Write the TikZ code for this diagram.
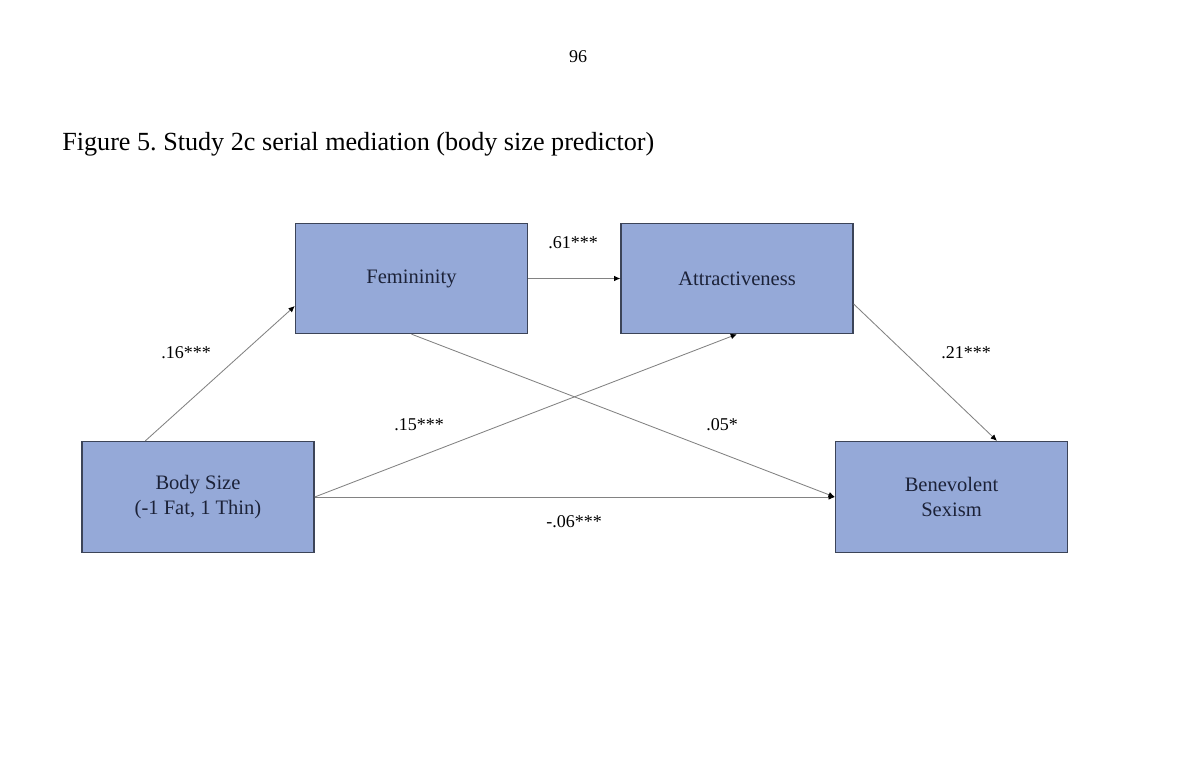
\documentclass[tikz,border=0pt]{standalone}
\usepackage{fontspec}
\setmainfont{Liberation Serif}
\usetikzlibrary{arrows.meta,calc}
\definecolor{boxfill}{RGB}{149,169,216}
\definecolor{boxline}{RGB}{60,68,88}
\definecolor{boxtext}{RGB}{28,34,56}
\definecolor{linegray}{RGB}{130,130,130}
\frenchspacing
\begin{document}
\begin{tikzpicture}[x=0.025cm,y=-0.025cm,
  varbox/.style={draw=boxline,line width=0.9pt,fill=boxfill,rectangle,
    minimum width=5.8cm,minimum height=2.75cm,inner sep=0pt,align=center,
    text=boxtext,font=\fontsize{14.6}{18.3}\selectfont},
  path/.style={draw=linegray,line width=0.6pt,-{Latex[length=4.5pt,width=4pt,color=black]}},
  coef/.style={font=\fontsize{12.8}{15}\selectfont,text=black,inner sep=0pt}]
\useasboundingbox[fill=white] (0,0) rectangle (1200,765);
\node[font=\fontsize{12.8}{15}\selectfont] (pagenum) at (578,57) {96};
\node[anchor=west,inner sep=0pt,font=\fontsize{18.6}{22}\selectfont] (title) at (62,144) {Figure 5. Study 2c serial mediation (body size predictor)};
\node[varbox] (fem) at (411.5,278.5) {Femininity};
\node[varbox] (attr) at (737,278.5) {Attractiveness};
\node[varbox,minimum height=2.775cm] (body) at (198,497) {Body Size\\(-1 Fat, 1 Thin)};
\node[varbox,minimum height=2.775cm] (benev) at (951.5,497) {Benevolent\\Sexism};
\draw[path] ($(body.north west)+(64,0)$) -- ($(fem.west)+(0,27.5)$);
\draw[path] (fem.east) -- (attr.west);
\draw[path] ($(attr.east)+(0,25.5)$) -- ($(benev.north)+(45.5,0)$);
\draw[path] (fem.south) -- (benev.west);
\draw[path] (body.east) -- (attr.south);
\draw[path] (body.east) -- (benev.west);
\node[coef] (c61) at (573,243) {.61***};
\node[coef] (c16) at (186,353) {.16***};
\node[coef] (c21) at (966,353) {.21***};
\node[coef] (c15) at (419,425) {.15***};
\node[coef] (c05) at (722,425) {.05*};
\node[coef] (c06) at (574,522) {-.06***};
\end{tikzpicture}
\end{document}
